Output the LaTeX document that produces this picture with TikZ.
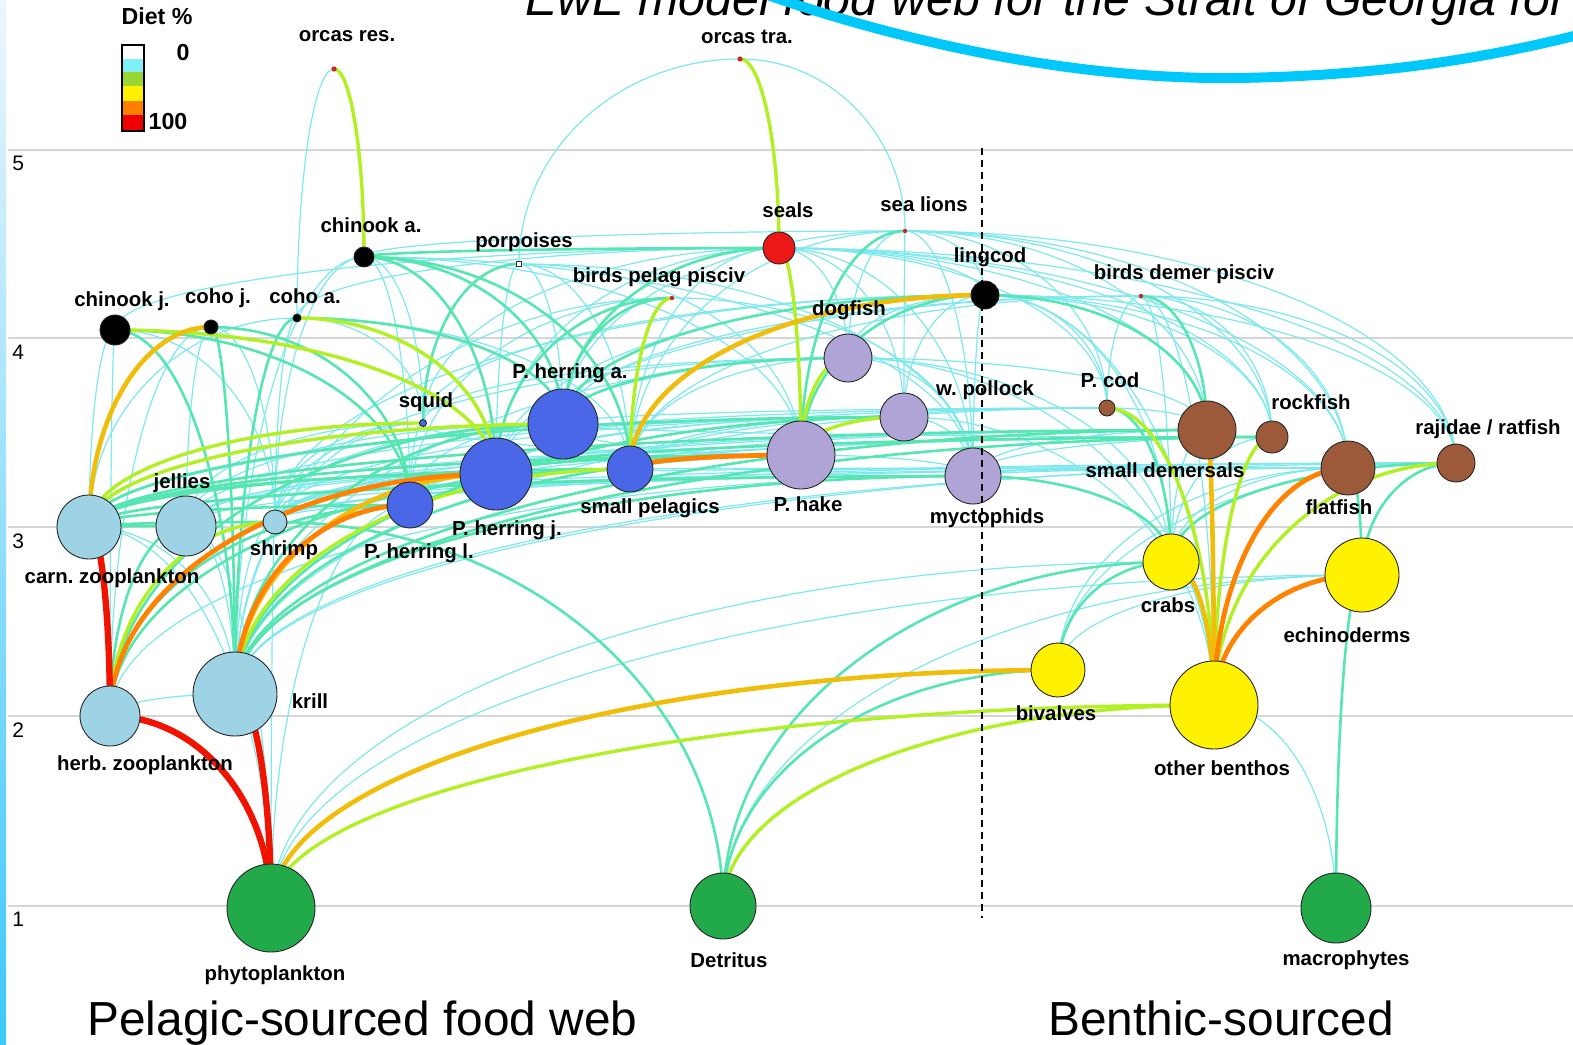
\documentclass[tikz,border=0pt]{standalone}
\usepackage{fontspec}
\setmainfont{Liberation Sans}
\frenchspacing
\usetikzlibrary{calc}
\pgfdeclarelayer{gridlayer}
\pgfdeclarelayer{edgelayer}
\pgfdeclarelayer{toplayer}
\pgfsetlayers{gridlayer,edgelayer,main,toplayer}
\definecolor{cyanE}{RGB}{125,233,238}
\definecolor{tealE}{RGB}{85,230,178}
\definecolor{limeE}{RGB}{178,240,36}
\definecolor{goldE}{RGB}{240,190,10}
\definecolor{orangeE}{RGB}{255,130,0}
\definecolor{redE}{RGB}{240,20,0}
\definecolor{bluN}{RGB}{74,103,232}
\definecolor{purN}{RGB}{176,164,214}
\definecolor{brnN}{RGB}{156,90,58}
\definecolor{ltbN}{RGB}{158,211,230}
\definecolor{yelN}{RGB}{255,242,0}
\definecolor{grnN}{RGB}{34,170,74}
\definecolor{redN}{RGB}{236,24,24}
\definecolor{dotR}{RGB}{200,40,40}
\definecolor{legC}{RGB}{128,240,248}
\definecolor{legG}{RGB}{153,214,50}
\definecolor{legY}{RGB}{255,240,0}
\definecolor{legO}{RGB}{255,128,0}
\definecolor{legR}{RGB}{238,0,0}
\definecolor{gridC}{RGB}{214,214,214}
\definecolor{swooshC}{RGB}{0,200,250}
\definecolor{barTop}{RGB}{236,246,254}
\definecolor{barBot}{RGB}{60,200,250}
\newcommand\fwe[3]{\draw[e#3] (#1.center) .. controls ($(#1.center)!0.552!(#1.center |- #2.center)$) and ($(#2.center)!0.552!(#1.center |- #2.center)$) .. (#2.center);}
\newcommand\fwlab[3]{\node[lbl] (l#1) at (#2) {#3};}
\begin{document}
\begin{tikzpicture}[x=0.5pt,y=-0.5pt,
  e1/.style={draw=cyanE, line width=0.6pt},
  e2/.style={draw=tealE, line width=1.3pt},
  e3/.style={draw=limeE, line width=1.7pt},
  e4/.style={draw=goldE, line width=2.3pt},
  e5/.style={draw=orangeE, line width=2.4pt},
  e6/.style={draw=redE, line width=3.2pt},
  nd/.style={circle, draw=black!85, line width=0.45pt, inner sep=0pt},
  blk/.style={nd, fill=black},
  bluenode/.style={nd, fill=bluN},
  purnode/.style={nd, fill=purN},
  brnnode/.style={nd, fill=brnN},
  ltbnode/.style={nd, fill=ltbN},
  yelnode/.style={nd, fill=yelN},
  grnnode/.style={nd, fill=grnN},
  rednode/.style={nd, fill=redN},
  tdot/.style={circle, fill=dotR, inner sep=0pt, minimum size=2.6pt},
  lbl/.style={font=\bfseries\fontsize{10.2}{12}\selectfont, inner sep=0pt, text height=7.3pt, text depth=2.1pt},
  axn/.style={font=\fontsize{10.5}{12}\selectfont, inner sep=0pt, anchor=base west},
  legt/.style={font=\bfseries\fontsize{11.6}{13}\selectfont, inner sep=0pt},
  bigt/.style={font=\fontsize{23.9}{28}\selectfont, inner sep=0pt, anchor=base west},
  gridl/.style={draw=gridC, line width=0.75pt},
  swoosh/.style={draw=swooshC, line width=5pt}
]
\useasboundingbox (0,0) rectangle (1573,1044);

% background, side bar and grid
\begin{pgfonlayer}{gridlayer}
\fill[white] (0,0) rectangle (1573,1044);
\shade[top color=barTop, bottom color=barBot] (0,0) rectangle (6,1044);
\draw[gridl] (8,150) -- (1573,150);
\draw[gridl] (8,338) -- (1573,338);
\draw[gridl] (8,527) -- (1573,527);
\draw[gridl] (8,716) -- (1573,716);
\draw[gridl] (8,906) -- (1573,906);
\end{pgfonlayer}
\node[axn] (ax5) at (12,170) {5};
\node[axn] (ax4) at (12,359) {4};
\node[axn] (ax3) at (12,548) {3};
\node[axn] (ax2) at (12,737) {2};
\node[axn] (ax1) at (12,926) {1};

% legend
\node[legt] (legtitle) at (157,16) {Diet \%};
\fill[white] (122,45) rectangle (144,59);
\fill[legC] (122,59) rectangle (144,72);
\fill[legG] (122,72) rectangle (144,86);
\fill[legY] (122,86) rectangle (144,101);
\fill[legO] (122,101) rectangle (144,115);
\fill[legR] (122,115) rectangle (144,131);
\draw[black, line width=0.6pt] (122,45) rectangle (144,131);
\node[legt] (leg0) at (183,53) {0};
\node[legt] (leg100) at (168,122) {100};

% title and bottom texts
\node[font=\fontsize{24.2}{28}\selectfont\itshape, inner sep=0pt, anchor=base west] (title) at (525,15) {EwE model food web for the Strait of Georgia for};
\node[bigt] (pel) at (87,1035) {Pelagic-sourced food web};
\node[bigt] (ben) at (1048,1035) {Benthic-sourced};

% nodes
\node[tdot] (ores) at (334,69) {};
\node[tdot] (otra) at (740,59) {};
\node[blk, minimum size=10pt] (chia) at (364,257) {};
\node[rectangle, draw=black!80, fill=white, line width=0.4pt, inner sep=0pt, minimum size=2.4pt] (porp) at (519,264) {};
\node[rednode, minimum size=16pt] (seal) at (779,248) {};
\node[tdot, minimum size=2.2pt] (slion) at (905,231) {};
\node[blk, minimum size=14pt] (ling) at (985,295) {};
\node[tdot, minimum size=2.2pt] (bpp) at (672,298) {};
\node[tdot, minimum size=2.2pt] (bdp) at (1141,296) {};
\node[blk, minimum size=15pt] (chij) at (115,330) {};
\node[blk, minimum size=7pt] (cohj) at (211,327) {};
\node[blk, minimum size=4pt] (coha) at (297,318) {};
\node[purnode, minimum size=24pt] (dog) at (848,358) {};
\node[bluenode, minimum size=35pt] (pha) at (563,424) {};
\node[bluenode, minimum size=3.5pt] (squid) at (423,423) {};
\node[purnode, minimum size=24pt] (wpol) at (904,417) {};
\node[brnnode, minimum size=8pt] (pcod) at (1107,408) {};
\node[brnnode, minimum size=16pt] (rock) at (1272,437) {};
\node[brnnode, minimum size=29pt] (sdem) at (1207,430) {};
\node[brnnode, minimum size=19pt] (raj) at (1456,463) {};
\node[brnnode, minimum size=27pt] (flat) at (1348,468) {};
\node[purnode, minimum size=34pt] (hake) at (801,455) {};
\node[purnode, minimum size=28pt] (myct) at (973,476) {};
\node[bluenode, minimum size=23pt] (spel) at (630,469) {};
\node[bluenode, minimum size=36pt] (phj) at (496,474) {};
\node[bluenode, minimum size=23pt] (phl) at (410,505) {};
\node[ltbnode, minimum size=32pt] (carn) at (89,527) {};
\node[ltbnode, minimum size=30pt] (jel) at (186,526) {};
\node[ltbnode, minimum size=12pt] (shr) at (275,522) {};
\node[yelnode, minimum size=28pt] (crab) at (1171,562) {};
\node[yelnode, minimum size=37pt] (echi) at (1362,575) {};
\node[yelnode, minimum size=27pt] (biv) at (1058,670) {};
\node[yelnode, minimum size=44pt] (oben) at (1214,705) {};
\node[ltbnode, minimum size=30pt] (herb) at (110,716) {};
\node[ltbnode, minimum size=42pt] (krill) at (235,694) {};
\node[grnnode, minimum size=44pt] (phyto) at (271,908) {};
\node[grnnode, minimum size=33pt] (det) at (723,906) {};
\node[grnnode, minimum size=35pt] (macro) at (1336,908) {};

% labels
\fwlab{ores}{347,36}{orcas res.}
\fwlab{otra}{747,38}{orcas tra.}
\fwlab{chia}{371,227}{chinook a.}
\fwlab{porp}{524,242}{porpoises}
\fwlab{seal}{788,212}{seals}
\fwlab{slion}{924,206}{sea lions}
\fwlab{ling}{990,257}{lingcod}
\fwlab{bpp}{659,277}{birds pelag pisciv}
\fwlab{bdp}{1184,274}{birds demer pisciv}
\fwlab{chij}{122,301}{chinook j.}
\fwlab{cohj}{218,298}{coho j.}
\fwlab{coha}{305,298}{coho a.}
\fwlab{dog}{849,310}{dogfish}
\fwlab{pha}{570,373}{P. herring a.}
\fwlab{squid}{426,402}{squid}
\fwlab{wpol}{985,390}{w. pollock}
\fwlab{pcod}{1110,382}{P. cod}
\fwlab{rock}{1311,404}{rockfish}
\fwlab{sdem}{1165,472}{small demersals}
\fwlab{raj}{1488,429}{rajidae / ratfish}
\fwlab{flat}{1339,509}{flatfish}
\fwlab{hake}{808,506}{P. hake}
\fwlab{myct}{987,518}{myctophids}
\fwlab{spel}{650,508}{small pelagics}
\fwlab{phj}{507,530}{P. herring j.}
\fwlab{phl}{419,553}{P. herring l.}
\fwlab{carn}{112,578}{carn. zooplankton}
\fwlab{jel}{182,483}{jellies}
\fwlab{shr}{284,550}{shrimp}
\fwlab{crab}{1168,607}{crabs}
\fwlab{echi}{1347,637}{echinoderms}
\fwlab{biv}{1056,715}{bivalves}
\fwlab{oben}{1222,770}{other benthos}
\fwlab{herb}{145,765}{herb. zooplankton}
\fwlab{krill}{310,703}{krill}
\fwlab{phyto}{275,975}{phytoplankton}
\fwlab{det}{729,962}{Detritus}
\fwlab{macro}{1346,960}{macrophytes}

% edges (prey, predator, level)
\begin{pgfonlayer}{edgelayer}
% level 1
\fwe{coha}{ores}{1}
\fwe{porp}{otra}{1}\fwe{slion}{otra}{1}
\fwe{phj}{seal}{1}\fwe{spel}{seal}{1}\fwe{dog}{seal}{1}\fwe{ling}{seal}{1}\fwe{sdem}{seal}{1}
\fwe{flat}{seal}{1}\fwe{rock}{seal}{1}\fwe{wpol}{seal}{1}\fwe{myct}{seal}{1}\fwe{squid}{seal}{1}
\fwe{coha}{seal}{1}\fwe{pcod}{seal}{1}\fwe{chij}{seal}{1}\fwe{raj}{seal}{1}
\fwe{pha}{slion}{1}\fwe{dog}{slion}{1}\fwe{ling}{slion}{1}\fwe{spel}{slion}{1}\fwe{chia}{slion}{1}
\fwe{rock}{slion}{1}\fwe{flat}{slion}{1}\fwe{raj}{slion}{1}\fwe{wpol}{slion}{1}\fwe{sdem}{slion}{1}
\fwe{pcod}{slion}{1}\fwe{myct}{slion}{1}
\fwe{pha}{porp}{1}\fwe{phj}{porp}{1}\fwe{spel}{porp}{1}\fwe{hake}{porp}{1}\fwe{myct}{porp}{1}
\fwe{phl}{bpp}{1}\fwe{myct}{bpp}{1}\fwe{krill}{bpp}{1}
\fwe{phj}{ling}{1}\fwe{rock}{ling}{1}\fwe{flat}{ling}{1}\fwe{crab}{ling}{1}\fwe{pcod}{ling}{1}
\fwe{wpol}{ling}{1}\fwe{myct}{ling}{1}\fwe{dog}{ling}{1}\fwe{squid}{ling}{1}\fwe{oben}{ling}{1}
\fwe{raj}{ling}{1}\fwe{shr}{ling}{1}
\fwe{flat}{bdp}{1}\fwe{pcod}{bdp}{1}\fwe{crab}{bdp}{1}\fwe{rock}{bdp}{1}\fwe{spel}{bdp}{1}
\fwe{pha}{bdp}{1}\fwe{oben}{bdp}{1}\fwe{raj}{bdp}{1}\fwe{phj}{bdp}{1}
\fwe{squid}{chia}{1}\fwe{krill}{chia}{1}\fwe{shr}{chia}{1}\fwe{myct}{chia}{1}\fwe{hake}{chia}{1}\fwe{phl}{chia}{1}
\fwe{spel}{coha}{1}\fwe{carn}{coha}{1}\fwe{squid}{coha}{1}\fwe{shr}{coha}{1}
\fwe{shr}{cohj}{1}\fwe{jel}{cohj}{1}\fwe{herb}{cohj}{1}
\fwe{carn}{chij}{1}\fwe{shr}{chij}{1}\fwe{herb}{chij}{1}
\fwe{phj}{dog}{1}\fwe{spel}{dog}{1}\fwe{krill}{dog}{1}\fwe{myct}{dog}{1}\fwe{squid}{dog}{1}
\fwe{crab}{dog}{1}\fwe{sdem}{dog}{1}\fwe{oben}{dog}{1}\fwe{shr}{dog}{1}
\fwe{phj}{wpol}{1}\fwe{spel}{wpol}{1}\fwe{myct}{wpol}{1}\fwe{shr}{wpol}{1}\fwe{jel}{wpol}{1}\fwe{oben}{wpol}{1}
\fwe{pha}{hake}{1}\fwe{shr}{hake}{1}\fwe{myct}{hake}{1}\fwe{jel}{hake}{1}\fwe{squid}{hake}{1}\fwe{phl}{hake}{1}
\fwe{herb}{myct}{1}\fwe{jel}{myct}{1}\fwe{shr}{myct}{1}\fwe{phl}{myct}{1}
\fwe{shr}{pha}{1}\fwe{jel}{pha}{1}\fwe{phl}{pha}{1}
\fwe{shr}{phj}{1}\fwe{jel}{phj}{1}\fwe{phl}{phj}{1}
\fwe{phyto}{phl}{1}\fwe{shr}{phl}{1}
\fwe{phl}{spel}{1}\fwe{jel}{spel}{1}\fwe{shr}{spel}{1}
\fwe{krill}{squid}{1}\fwe{shr}{squid}{1}\fwe{phl}{squid}{1}\fwe{jel}{squid}{1}
\fwe{phyto}{carn}{1}\fwe{krill}{carn}{1}
\fwe{krill}{jel}{1}\fwe{phyto}{jel}{1}
\fwe{krill}{shr}{1}\fwe{phyto}{shr}{1}
\fwe{herb}{krill}{1}
\fwe{sdem}{pcod}{1}\fwe{spel}{pcod}{1}\fwe{krill}{pcod}{1}\fwe{pha}{pcod}{1}\fwe{phj}{pcod}{1}\fwe{carn}{pcod}{1}
\fwe{crab}{sdem}{1}\fwe{phj}{sdem}{1}\fwe{spel}{sdem}{1}\fwe{shr}{sdem}{1}\fwe{myct}{sdem}{1}
\fwe{crab}{rock}{1}\fwe{spel}{rock}{1}\fwe{shr}{rock}{1}\fwe{myct}{rock}{1}\fwe{pha}{rock}{1}\fwe{carn}{rock}{1}
\fwe{crab}{flat}{1}\fwe{biv}{flat}{1}\fwe{krill}{flat}{1}\fwe{shr}{flat}{1}\fwe{spel}{flat}{1}
\fwe{phj}{flat}{1}\fwe{myct}{flat}{1}\fwe{carn}{flat}{1}
\fwe{shr}{raj}{1}\fwe{flat}{raj}{1}\fwe{krill}{raj}{1}\fwe{biv}{raj}{1}\fwe{myct}{raj}{1}\fwe{carn}{raj}{1}
\fwe{phyto}{crab}{1}
\fwe{det}{echi}{1}\fwe{biv}{echi}{1}\fwe{phyto}{echi}{1}
\fwe{macro}{oben}{1}
% level 2
\fwe{chia}{seal}{2}\fwe{pha}{seal}{2}
\fwe{hake}{slion}{2}
\fwe{squid}{porp}{2}
\fwe{phj}{bpp}{2}\fwe{pha}{bpp}{2}
\fwe{pha}{ling}{2}\fwe{sdem}{ling}{2}\fwe{hake}{ling}{2}
\fwe{sdem}{bdp}{2}
\fwe{pha}{chia}{2}\fwe{phj}{chia}{2}\fwe{spel}{chia}{2}
\fwe{pha}{coha}{2}\fwe{krill}{coha}{2}
\fwe{krill}{cohj}{2}\fwe{phl}{cohj}{2}
\fwe{phl}{chij}{2}\fwe{krill}{chij}{2}
\fwe{pha}{dog}{2}
\fwe{krill}{wpol}{2}\fwe{carn}{wpol}{2}
\fwe{krill}{hake}{2}\fwe{phj}{hake}{2}\fwe{carn}{hake}{2}
\fwe{carn}{myct}{2}\fwe{krill}{myct}{2}\fwe{crab}{myct}{2}
\fwe{krill}{pha}{2}\fwe{herb}{pha}{2}
\fwe{carn}{phj}{2}
\fwe{herb}{phl}{2}\fwe{carn}{phl}{2}
\fwe{carn}{spel}{2}\fwe{herb}{spel}{2}
\fwe{carn}{jel}{2}\fwe{herb}{jel}{2}
\fwe{det}{shr}{2}\fwe{carn}{shr}{2}
\fwe{phyto}{krill}{2}
\fwe{crab}{pcod}{2}
\fwe{krill}{sdem}{2}\fwe{carn}{sdem}{2}
\fwe{krill}{rock}{2}\fwe{phj}{rock}{2}
\fwe{echi}{flat}{2}
\fwe{crab}{raj}{2}\fwe{echi}{raj}{2}
\fwe{det}{crab}{2}\fwe{biv}{crab}{2}
\fwe{macro}{echi}{2}
\fwe{det}{biv}{2}
% level 3
\fwe{chia}{ores}{3}
\fwe{seal}{otra}{3}
\fwe{hake}{seal}{3}
\fwe{spel}{bpp}{3}
\fwe{phj}{coha}{3}
\fwe{phj}{chij}{3}
\fwe{hake}{dog}{3}
\fwe{hake}{wpol}{3}
\fwe{carn}{pha}{3}
\fwe{krill}{spel}{3}
\fwe{carn}{squid}{3}
\fwe{herb}{shr}{3}
\fwe{oben}{pcod}{3}
\fwe{oben}{rock}{3}
\fwe{oben}{raj}{3}
\fwe{phyto}{oben}{3}
\fwe{det}{oben}{3}
% level 4
\fwe{spel}{ling}{4}
\fwe{carn}{cohj}{4}
\fwe{krill}{phj}{4}
\fwe{oben}{sdem}{4}
\fwe{oben}{crab}{4}
\fwe{phyto}{biv}{4}
% level 5
\fwe{spel}{hake}{5}
\fwe{herb}{phj}{5}
\fwe{krill}{phl}{5}
\fwe{oben}{flat}{5}
\fwe{oben}{echi}{5}
% level 6
\fwe{herb}{carn}{6}
\fwe{phyto}{krill}{6}
\fwe{phyto}{herb}{6}
\end{pgfonlayer}

% top layer: dashed divider and swoosh
\begin{pgfonlayer}{toplayer}
\coordinate (dtop) at (982,148);
\coordinate (dbot) at (982,918);
\draw[black, line width=0.75pt, dash pattern=on 3.5pt off 2.5pt] (dtop) -- (dbot);
\coordinate (sw0) at (759,-8);
\coordinate (sw1) at (1235,78);
\coordinate (sw2) at (1590,32);
\draw[swoosh] (sw0) .. controls (880,35) and (1060,80) .. (sw1) .. controls (1390,76) and (1500,55) .. (sw2);
\end{pgfonlayer}
\end{tikzpicture}
\end{document}
